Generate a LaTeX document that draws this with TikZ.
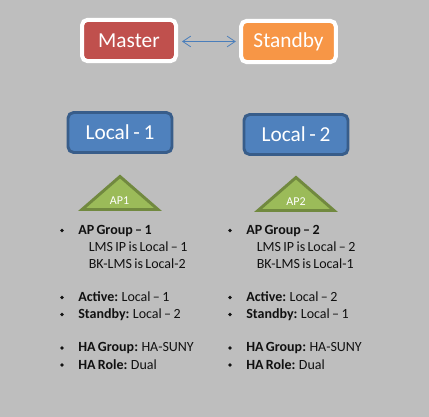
\documentclass[tikz,border=0pt]{standalone}
\usepackage{fontspec}
\setmainfont[WordSpace=0.75]{Carlito}
\usetikzlibrary{shadows,arrows.meta}
\definecolor{bg}{HTML}{BEBEBE}
\definecolor{mred}{HTML}{C0504D}
\definecolor{sorange}{HTML}{F79646}
\definecolor{lblue}{HTML}{4F81BD}
\definecolor{lline}{HTML}{385D8A}
\definecolor{apgreen}{HTML}{9BBB59}
\definecolor{apline}{HTML}{71893F}
\definecolor{txt}{HTML}{111111}
\definecolor{arrowc}{HTML}{4A7EBB}
\tikzset{
  x=0.75pt,y=-0.75pt,
  topbox/.style={rounded corners=4.2pt,draw=white,line width=3pt,text=white,font=\fontsize{16}{20}\selectfont,
    inner sep=0pt,drop shadow={shadow xshift=0.6pt,shadow yshift=-1pt,opacity=.35}},
  localbox/.style={rounded corners=4.2pt,draw=lline,fill=lblue,line width=2.2pt,text=white,font=\fontsize{16}{20}\selectfont,inner sep=0pt},
  aptri/.style={draw=apline,fill=apgreen,line width=2.2pt,line join=miter},
  aplabel/.style={text=white,font=\fontsize{9}{10}\selectfont,inner sep=0pt},
  listtext/.style={anchor=base west,inner sep=0pt,text=txt,font=\fontsize{10.5}{13}\selectfont},
  dot/.style={circle,fill=txt,inner sep=0pt,minimum size=2.7pt}
}
\newcommand{\lrow}[4]{%
  \node[dot] (d#1) at (#2-16,#3-4) {};
  \node[listtext] (t#1) at (#2,#3) {#4};}
\begin{document}
\begin{tikzpicture}
\useasboundingbox[fill=bg] (0,0) rectangle (429,417);
\node[topbox,fill=mred,minimum width=70.5pt,minimum height=31pt] (master) at (129,40.5) {Master};
\node[topbox,fill=sorange,minimum width=71pt,minimum height=31pt] (standby) at (288.5,41.5) {Standby};
\draw[arrowc,line width=0.6pt,{Straight Barb[length=6pt,width=8pt,line width=0.6pt]}-{Straight Barb[length=6pt,width=8pt,line width=0.6pt]},shorten >=1pt,shorten <=1.5pt] (master.east|-0,41.5) ++(2,0) coordinate (ma) (standby.west|-0,41.5) ++(-2,0) coordinate (sa) (ma) -- (sa);
\node[localbox,minimum width=78pt,minimum height=30pt] (l1) at (120,132.5) {Local - 1};
\node[localbox,minimum width=78pt,minimum height=30pt] (l2) at (296,134.5) {Local - 2};
\draw[aptri] (120,176.5) -- (158,209.5) -- (82,209.5) -- cycle;
\node[aplabel] (ap1) at (119.5,201) {AP1};
\draw[aptri] (296,177.5) -- (334,210.5) -- (258,210.5) -- cycle;
\node[aplabel] (ap2) at (296,202) {AP2};
% column 1
\lrow{a1}{78}{234.5}{\textbf{AP Group -- 1}}
\node[listtext] (a2) at (88.5,251.5) {LMS IP is Local -- 1};
\node[listtext] (a3) at (88.5,268.5) {BK-LMS is Local-2};
\lrow{a4}{78}{301.5}{\textbf{Active:} Local -- 1}
\lrow{a5}{78}{318.5}{\textbf{Standby:} Local -- 2}
\lrow{a6}{78}{352}{\textbf{HA Group:} HA-SUNY}
\lrow{a7}{78}{369}{\textbf{HA Role:} Dual}
% column 2
\lrow{b1}{246}{234.5}{\textbf{AP Group -- 2}}
\node[listtext] (b2) at (256.5,251.5) {LMS IP is Local -- 2};
\node[listtext] (b3) at (256.5,268.5) {BK-LMS is Local-1};
\lrow{b4}{246}{301.5}{\textbf{Active:} Local -- 2}
\lrow{b5}{246}{318.5}{\textbf{Standby:} Local -- 1}
\lrow{b6}{246}{352}{\textbf{HA Group:} HA-SUNY}
\lrow{b7}{246}{369}{\textbf{HA Role:} Dual}
\end{tikzpicture}
\end{document}
